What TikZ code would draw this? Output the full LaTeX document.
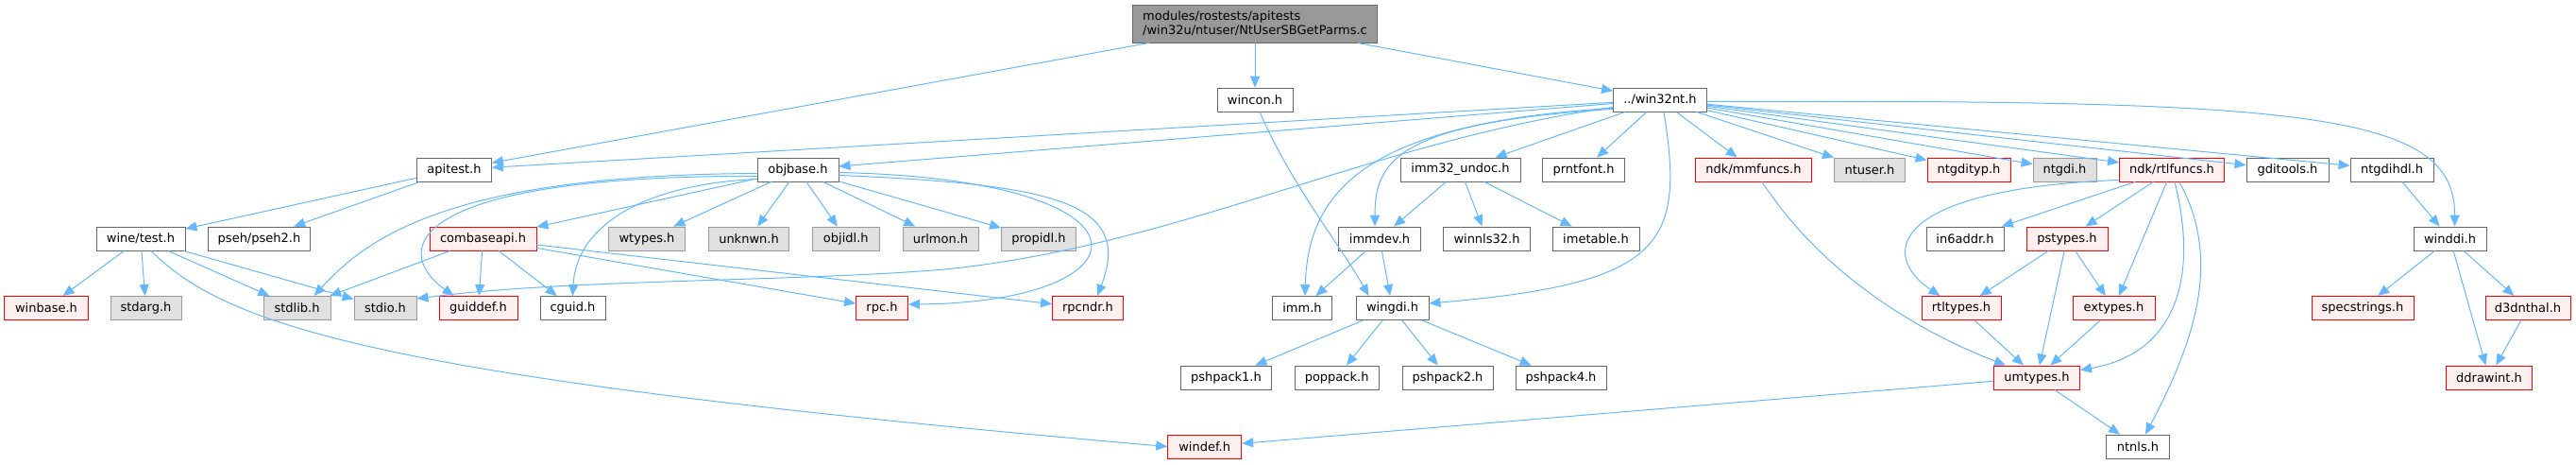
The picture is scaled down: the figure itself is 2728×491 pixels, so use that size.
\documentclass[tikz,border=0pt]{standalone}
\usepackage{fontspec}
\setmainfont{DejaVu Sans}
\usetikzlibrary{arrows.meta,calc}
\definecolor{edgeblue}{HTML}{63B8FF}
\definecolor{gry40}{HTML}{666666}
\definecolor{gry60}{HTML}{999999}
\definecolor{undoc}{HTML}{E0E0E0}
\definecolor{trunc}{HTML}{FFF0F0}
\definecolor{redb}{HTML}{FF0000}
\begin{document}
\begin{tikzpicture}[x=1pt,y=-1pt,
 base/.style={draw, line width=0.9pt, minimum height=25pt, inner sep=0pt, text=black, font=\fontsize{13}{15}\selectfont},
 wbox/.style={base, draw=gry40, fill=white},
 gbox/.style={base, draw=gry60, fill=undoc},
 rbox/.style={base, draw=redb, fill=trunc},
 mbox/.style={base, draw=gry40, fill=gry60, minimum height=40pt, align=left},
 edge/.style={draw=edgeblue, line width=1pt, -{Triangle[length=12pt,width=10pt]}},
]
\useasboundingbox (0,0) rectangle (2728,491);
% row 0
\node[mbox, minimum width=259pt] (main) at (1329,25) {modules/rostests/apitests\\/win32u/ntuser/NtUserSBGetParms.c};
% row 1
\node[wbox, minimum width=80pt] (wincon) at (1329,105.5) {wincon.h};
\node[wbox, minimum width=99pt] (win32nt) at (1758,105.5) {../win32nt.h};
% row 2
\node[wbox, minimum width=79pt] (apitest) at (481,179.5) {apitest.h};
\node[wbox, minimum width=86pt] (objbase) at (845,179.5) {objbase.h};
\node[wbox, minimum width=127pt] (immundoc) at (1546.5,179.5) {imm32\_undoc.h};
\node[wbox, minimum width=87pt] (prntfont) at (1677,179.5) {prntfont.h};
\node[rbox, minimum width=123pt] (mmfuncs) at (1857,179.5) {ndk/mmfuncs.h};
\node[gbox, minimum width=75pt] (ntuser) at (1980,179.5) {ntuser.h};
\node[rbox, minimum width=88pt] (ntgdityp) at (2085,179.5) {ntgdityp.h};
\node[gbox, minimum width=67pt] (ntgdi) at (2186.5,179.5) {ntgdi.h};
\node[rbox, minimum width=111pt] (rtlfuncs) at (2300,179.5) {ndk/rtlfuncs.h};
\node[wbox, minimum width=87pt] (gditools) at (2422.5,179.5) {gditools.h};
\node[wbox, minimum width=88pt] (ntgdihdl) at (2533,179.5) {ntgdihdl.h};
% row 3
\node[wbox, minimum width=94pt] (winetest) at (149,252.5) {wine/test.h};
\node[wbox, minimum width=108pt] (pseh) at (274.5,252.5) {pseh/pseh2.h};
\node[rbox, minimum width=113pt] (combaseapi) at (511.5,252.5) {combaseapi.h};
\node[gbox, minimum width=81pt] (wtypes) at (685,252.5) {wtypes.h};
\node[gbox, minimum width=85pt] (unknwn) at (793,252.5) {unknwn.h};
\node[gbox, minimum width=71pt] (objidl) at (895.8,252.5) {objidl.h};
\node[gbox, minimum width=80pt] (urlmon) at (996,252.5) {urlmon.h};
\node[gbox, minimum width=79pt] (propidl) at (1100,252.5) {propidl.h};
\node[wbox, minimum width=87pt] (immdev) at (1461,252.5) {immdev.h};
\node[wbox, minimum width=92pt] (winnls) at (1574.5,252.5) {winnls32.h};
\node[wbox, minimum width=92pt] (imetable) at (1690,252.5) {imetable.h};
\node[wbox, minimum width=82pt] (inaddr) at (2081,252.5) {in6addr.h};
\node[rbox, minimum width=86pt] (pstypes) at (2189,252.5) {pstypes.h};
\node[wbox, minimum width=77pt] (winddi) at (2594.5,252.5) {winddi.h};
% row 4
\node[rbox, minimum width=89pt] (winbase) at (49,326) {winbase.h};
\node[gbox, minimum width=75pt] (stdarg) at (154.5,326) {stdarg.h};
\node[gbox, minimum width=71pt] (stdlib) at (314.5,326) {stdlib.h};
\node[gbox, minimum width=66pt] (stdio) at (408,326) {stdio.h};
\node[rbox, minimum width=83pt] (guiddef) at (506.5,326) {guiddef.h};
\node[wbox, minimum width=69pt] (cguid) at (606.5,326) {cguid.h};
\node[rbox, minimum width=55pt] (rpc) at (934,326) {rpc.h};
\node[rbox, minimum width=75pt] (rpcndr) at (1152,326) {rpcndr.h};
\node[wbox, minimum width=63pt] (imm) at (1379,326) {imm.h};
\node[wbox, minimum width=77pt] (wingdi) at (1474.5,326) {wingdi.h};
\node[rbox, minimum width=84pt] (rtltypes) at (2077,326) {rtltypes.h};
\node[rbox, minimum width=87pt] (extypes) at (2238.5,326) {extypes.h};
\node[rbox, minimum width=108pt] (specstrings) at (2502,326) {specstrings.h};
\node[rbox, minimum width=90pt] (dnthal) at (2677,326) {d3dnthal.h};
% row 5
\node[wbox, minimum width=96pt] (pshone) at (1298.4,399.5) {pshpack1.h};
\node[wbox, minimum width=89pt] (poppack) at (1415.6,399.5) {poppack.h};
\node[wbox, minimum width=96pt] (pshtwo) at (1533,399.5) {pshpack2.h};
\node[wbox, minimum width=96pt] (pshfour) at (1653,399.5) {pshpack4.h};
\node[rbox, minimum width=91pt] (umtypes) at (2157,399.5) {umtypes.h};
\node[rbox, minimum width=91pt] (ddrawint) at (2636,399.5) {ddrawint.h};
% row 6
\node[rbox, minimum width=78pt] (windef) at (1275.7,472.5) {windef.h};
\node[wbox, minimum width=67pt] (ntnls) at (2264,472.5) {ntnls.h};

% straight edges
\foreach \a/\b in {main/apitest, main/wincon, main/win32nt,
  win32nt/apitest, win32nt/objbase, win32nt/immundoc, win32nt/prntfont, win32nt/mmfuncs,
  win32nt/ntuser, win32nt/ntgdityp, win32nt/ntgdi, win32nt/rtlfuncs, win32nt/gditools, win32nt/ntgdihdl,
  apitest/winetest, apitest/pseh,
  objbase/combaseapi, objbase/wtypes, objbase/unknwn, objbase/objidl, objbase/urlmon, objbase/propidl,
  combaseapi/stdlib, combaseapi/guiddef, combaseapi/cguid, combaseapi/rpc, combaseapi/rpcndr,
  winetest/winbase, winetest/stdarg, winetest/stdlib, winetest/stdio,
  immundoc/immdev, immundoc/winnls, immundoc/imetable,
  immdev/imm, immdev/wingdi,
  wingdi/pshone, wingdi/poppack, wingdi/pshtwo, wingdi/pshfour,
  rtlfuncs/inaddr, rtlfuncs/pstypes, rtlfuncs/extypes,
  pstypes/rtltypes, pstypes/umtypes, pstypes/extypes,
  rtltypes/umtypes, extypes/umtypes,
  umtypes/windef, umtypes/ntnls,
  ntgdihdl/winddi, winddi/specstrings, winddi/ddrawint, winddi/dnthal, dnthal/ddrawint}
  {\draw[edge] (\a) -- (\b);}

% curved edges
\draw[edge] ($(win32nt.south west)+(0,-5)$) .. controls (1450,150) and (1250,260) .. (1000,285) .. controls (850,298) and (600,295) .. ($(stdio.north east)+(0,3)$);
\draw[edge] ($(objbase.west)+(0,4)$) .. controls (480,185) and (390,250) .. ($(stdlib.north)+(18,0)$);
\draw[edge] ($(objbase.west)+(0,7)$) .. controls (440,185) and (410,262) .. ($(guiddef.north)+(-26,0)$);
\draw[edge] ($(objbase.west)+(0,10)$) .. controls (680,195) and (610,240) .. (cguid.north);
\draw[edge] ($(objbase.east)+(0,3)$) .. controls (1240,190) and (1220,320) .. ($(rpc.east)+(0,-4)$);
\draw[edge] ($(objbase.east)+(0,6)$) .. controls (1120,195) and (1200,215) .. ($(rpcndr.north)+(10,0)$);
\draw[edge] ($(winetest.south)+(11,0)$) .. controls (240,345) and (400,400) .. (windef.west);
\draw[edge] ($(win32nt.south west)+(0,-3)$) .. controls (1480,130) and (1456,170) .. ($(immdev.north)+(-5,0)$);
\draw[edge] ($(win32nt.south west)+(0,-4)$) .. controls (1450,130) and (1385,200) .. ($(imm.north)+(3,0)$);
\draw[edge] ($(win32nt.south)+(4,0)$) .. controls (1785,260) and (1760,300) .. ($(wingdi.east)+(0,-5)$);
\draw[edge] ($(win32nt.east)+(0,2)$) .. controls (2450,105) and (2600,120) .. ($(winddi.north)+(5,0)$);
\draw[edge] ($(wincon.south)+(5,0)$) .. controls (1370,200) and (1420,260) .. ($(wingdi.north)+(-25,0)$);
\draw[edge] ($(mmfuncs.south)+(9,0)$) .. controls (1930,290) and (2030,350) .. ($(umtypes.north west)+(13,0)$);
\draw[edge] ($(rtlfuncs.south west)+(0,-2)$) .. controls (2000,200) and (1990,270) .. ($(rtltypes.north west)+(20,0)$);
\draw[edge] ($(rtlfuncs.south)+(3,0)$) .. controls (2330,300) and (2300,375) .. ($(umtypes.east)+(0,-8)$);
\draw[edge] ($(rtlfuncs.south)+(8,0)$) .. controls (2350,270) and (2330,350) .. ($(ntnls.north)+(8,0)$);
\end{tikzpicture}
\end{document}
